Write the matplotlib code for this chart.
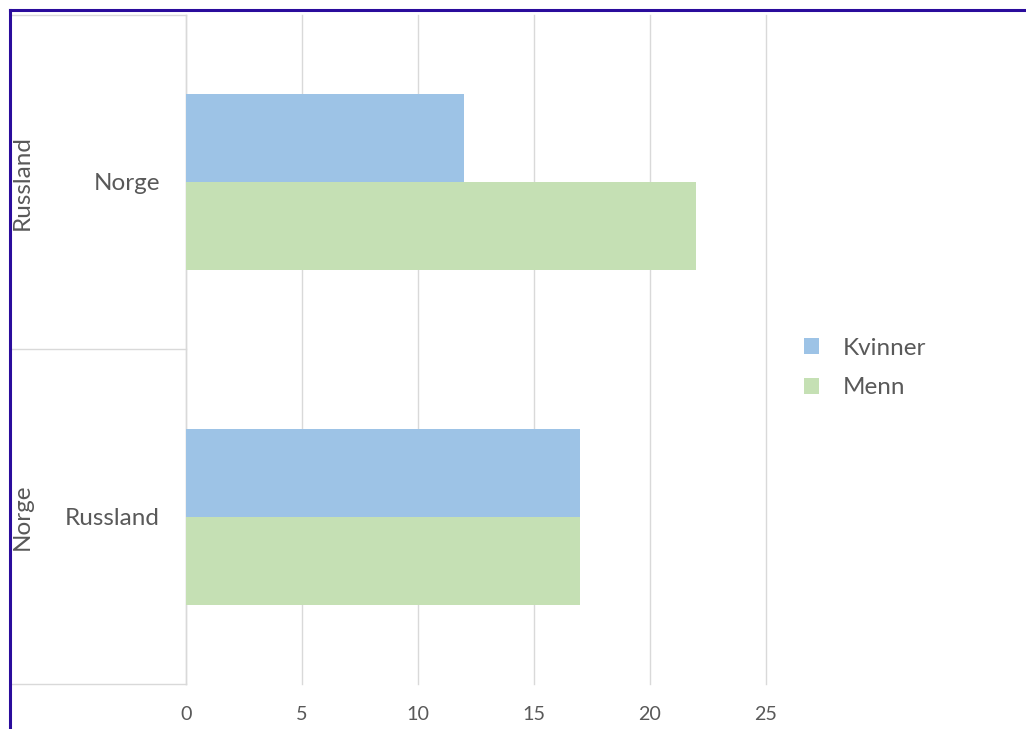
import matplotlib
matplotlib.use("Agg")
import matplotlib.pyplot as plt
from matplotlib.lines import Line2D

plt.rcParams['font.family'] = ['Lato', 'DejaVu Sans']

# Data
outer_categories = ["Russland", "Norge"]      # top to bottom
inner_categories = ["Norge", "Russland"]      # top to bottom
series_names = ["Kvinner", "Menn"]
kvinner = [12, 17]
menn = [22, 17]
x_ticks = [0, 5, 10, 15, 20, 25]

colors = ["#9DC3E6", "#C5E0B4"]
text_color = "#595959"
grid_color = "#D9D9D9"

W, H = 1026, 729
fig = plt.figure(figsize=(W / 100, H / 100), dpi=100)
ax = fig.add_axes([186 / W, 1 - 684 / H, (766 - 186) / W, (684 - 15) / H])

n = len(inner_categories)
centers = [n - 0.5 - i for i in range(n)]  # top group first
bh = 0.263

ax.barh(centers, kvinner, height=bh, align='edge', color=colors[0], label=series_names[0], zorder=3)
ax.barh([c - bh for c in centers], menn, height=bh, align='edge', color=colors[1], label=series_names[1], zorder=3)

ax.set_xlim(0, 25)
ax.set_ylim(0, n)
ax.set_xticks(x_ticks)
ax.set_xticklabels([str(t) for t in x_ticks])
ax.set_yticks([])
ax.tick_params(axis='x', length=0, pad=16, labelsize=14.2, labelcolor=text_color)
ax.grid(axis='x', color=grid_color, linewidth=1, zorder=0)
for gl in ax.get_xgridlines():
    gl.set_clip_on(False)
for s in ['top', 'right', 'bottom']:
    ax.spines[s].set_visible(False)
ax.spines['left'].set_color(grid_color)
ax.spines['left'].set_linewidth(1)

trans = ax.get_yaxis_transform()
ax_w = 766 - 186
x_inner = (160 - 186) / ax_w
x_outer = (22 - 186) / ax_w
x_left = (10 - 186) / ax_w

lab_fs = 17.5
for c, lab in zip(centers, inner_categories):
    ax.text(x_inner, c - 0.005, lab, transform=trans, ha='right', va='center',
            fontsize=lab_fs, color=text_color)
for c, lab in zip(centers, outer_categories):
    ax.text(x_outer, c, lab, transform=trans, ha='center', va='center',
            rotation=90, fontsize=lab_fs, color=text_color)
for yv in range(n + 1):
    ax.plot([x_left, 0], [yv, yv], transform=trans, color=grid_color,
            linewidth=1, clip_on=False)

ax.legend(loc='center left', bbox_to_anchor=(804 / W, 1 - 368 / H),
          bbox_transform=fig.transFigure, frameon=False, fontsize=lab_fs,
          handlelength=0.62, handleheight=0.62, handletextpad=0.98,
          labelspacing=0.76, borderpad=0, borderaxespad=0, labelcolor=text_color)

frame_color = "#2A0C9C"
fig.add_artist(Line2D([9.5 / W, 1], [1 - 9.5 / H, 1 - 9.5 / H], transform=fig.transFigure,
                      color=frame_color, linewidth=2.2))
fig.add_artist(Line2D([9.5 / W, 9.5 / W], [0, 1 - 9.5 / H], transform=fig.transFigure,
                      color=frame_color, linewidth=2.2))

fig.savefig("out.png", dpi=100, facecolor="white")
